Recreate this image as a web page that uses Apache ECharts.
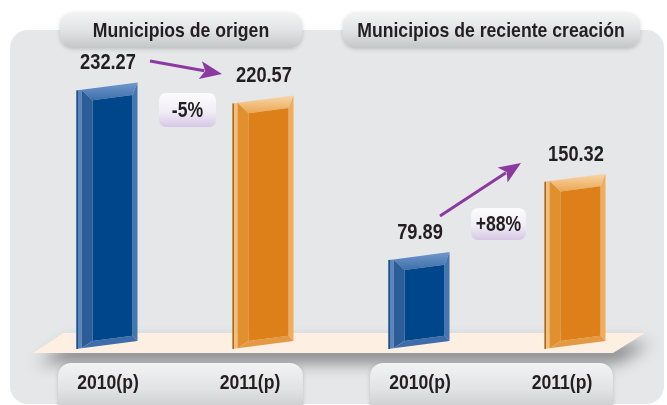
<!DOCTYPE html>
<html>
<head>
<meta charset="utf-8">
<script src="https://cdn.jsdelivr.net/npm/echarts@6/dist/echarts.min.js"></script>
<style>
  html, body { margin: 0; padding: 0; background: #fff; }
  #main { width: 667px; height: 405px; }
</style>
</head>
<body>
<div id="main"></div>
<script>
// datos
const categories = ['2010(p)', '2011(p)', '2010(p)', '2011(p)'];
const values = [232.27, 220.57, 79.89, 150.32];
const groupTitles = ['Municipios de origen', 'Municipios de reciente creación'];
const changes = ['-5%', '+88%'];

// no hay Arial Narrow: Liberation Sans comprimida a lo ancho
const FONT = '"Liberation Sans", Arial, sans-serif';
const NARROW = 0.83;

const palettes = [
    { edge: '#1d4a82', side: '#5a86bd', left: '#2c5d99', topA: '#7099cc', topB: '#3e6eaa', right: '#4676b0', bottom: '#3d6daa', face: '#00468b' },
    { edge: '#a5661e', side: '#f3bd7c', left: '#e0902f', topA: '#f8d6a8', topB: '#eba754', right: '#efae5e', bottom: '#e49944', face: '#de8019' }
];

const chart = echarts.init(document.getElementById('main'));

function txt(text, x, y, size, sx, z) {
    return {
        type: 'text', x: x, y: y, scaleX: sx || NARROW, z: z || 6,
        style: {
            text: text, x: 0, y: 0, align: 'center', verticalAlign: 'middle',
            fontFamily: FONT, fontWeight: 'bold', fontSize: size, fill: '#231f20'
        }
    };
}

function renderBar(params, api) {
    const i = api.value(0), v = api.value(1);
    const base = api.coord([i, 0]);
    const top = api.coord([i, v]);
    const cx = base[0], y0 = base[1], y1 = top[1];
    const w = 61, s = 8;
    const pal = palettes[i % 2];
    const p = (x, y) => [x, y - (x - cx) / w * s];
    const L = cx - w / 2, R = cx + w / 2;
    const OL = L + 5, OR = R, OT = y1, OB = y0;
    const IL = L + 16, IR = R - 5, IT = y1 + 12, IB = y0 - 6;
    const poly = (pts, fill) => ({ type: 'polygon', shape: { points: pts }, style: { fill: fill } });
    // etiqueta de categoria: los "2011(p)" van corridos a la izquierda
    const catX = i % 2 ? cx - 13 : cx + 1;
    return {
        type: 'group',
        children: [
            poly([p(L, OT), p(OL, OT), p(OL, OB), p(L, OB)], pal.side),
            { type: 'line', shape: { x1: L + 0.7, y1: p(L, OT)[1], x2: L + 0.7, y2: p(L, OB)[1] }, style: { stroke: pal.edge, lineWidth: 1.5 } },
            poly([p(OL, OT), p(OR, OT), p(IR, IT), p(IL, IT)],
                new echarts.graphic.LinearGradient(0, 0, 0, 1, [{ offset: 0, color: pal.topA }, { offset: 1, color: pal.topB }])),
            poly([p(OL, OT), p(IL, IT), p(IL, IB), p(OL, OB)], pal.left),
            poly([p(OR, OT), p(OR, OB), p(IR, IB), p(IR, IT)], pal.right),
            poly([p(OL, OB), p(IL, IB), p(IR, IB), p(OR, OB)], pal.bottom),
            poly([p(IL, IT), p(IR, IT), p(IR, IB), p(IL, IB)], pal.face),
            txt(values[i].toFixed(2), cx + 1, y1 - 23, 22),
            txt(categories[i], catX, y0 + 38, 20, 0.88)
        ]
    };
}

function arrow(x1, y1, x2, y2) {
    const dx = x2 - x1, dy = y2 - y1, len = Math.sqrt(dx * dx + dy * dy);
    const ux = dx / len, uy = dy / len, nx = -uy, ny = ux;
    const hl = 22, hw = 9;
    const bx = x2 - ux * hl, by = y2 - uy * hl;
    return [
        { type: 'line', z: 4, shape: { x1: x1, y1: y1, x2: bx + ux * 4, y2: by + uy * 4 }, style: { stroke: '#8b3a9f', lineWidth: 3 } },
        { type: 'polygon', z: 4, shape: { points: [[x2, y2], [bx + nx * hw, by + ny * hw], [bx + ux * 5, by + uy * 5], [bx - nx * hw, by - ny * hw]] }, style: { fill: '#8b3a9f' } }
    ];
}

const pillFill = new echarts.graphic.LinearGradient(0, 0, 0, 1, [
    { offset: 0, color: '#f3f3f4' }, { offset: 0.5, color: '#e2e3e4' }, { offset: 1, color: '#c5c6c8' }
]);
const badgeFill = new echarts.graphic.LinearGradient(0, 0, 0, 1, [
    { offset: 0, color: '#fcfcfd' }, { offset: 0.55, color: '#f1edf5' }, { offset: 1, color: '#d6c7e5' }
]);

function pill(x, y, w, h) {
    return {
        type: 'rect', z: -5, shape: { x: x, y: y, width: w, height: h, r: 13 },
        style: { fill: pillFill, shadowColor: 'rgba(0,0,0,0.18)', shadowBlur: 4, shadowOffsetY: 1 }
    };
}
function badge(text, x, y, w, h) {
    return [
        { type: 'rect', z: 4, shape: { x: x, y: y, width: w, height: h, r: 7 }, style: { fill: badgeFill } },
        txt(text, x + w / 2, y + h / 2 + 1, 22, 0.8)
    ];
}

const graphics = [
    { type: 'rect', z: -10, shape: { x: 10, y: 30, width: 654, height: 374, r: 18 }, style: { fill: '#e6e7e9' } },
    {
        type: 'polygon', z: -8,
        shape: { points: [[63, 333], [645, 333], [613, 353], [33, 353]] },
        style: { fill: '#fdefe1', shadowColor: 'rgba(0,0,0,0.42)', shadowBlur: 16, shadowOffsetY: 10, shadowOffsetX: 5 }
    },
    pill(60, 13, 242, 35),
    pill(343, 13, 297, 35),
    pill(58, 363, 245, 52),
    pill(370, 363, 243, 52),
    txt(groupTitles[0], 181, 31, 21, 0.84),
    txt(groupTitles[1], 491, 31, 21, 0.84)
].concat(
    arrow(150, 61, 222, 74),
    arrow(440, 216, 521, 163),
    badge(changes[0], 159, 93, 57, 34),
    badge(changes[1], 471, 208, 55, 32)
);

const option = {
    animation: false,
    backgroundColor: '#fff',
    grid: { left: 29, right: 14, top: 11, bottom: 60 },
    xAxis: {
        type: 'category',
        data: categories,
        axisLine: { show: false },
        axisTick: { show: false },
        axisLabel: { show: false }
    },
    yAxis: { type: 'value', min: 0, max: 300, show: false },
    graphic: graphics,
    series: [{
        type: 'custom',
        z: 3,
        clip: false,
        renderItem: renderBar,
        data: values.map((v, i) => [i, v])
    }]
};

chart.setOption(option);
</script>
</body>
</html>
